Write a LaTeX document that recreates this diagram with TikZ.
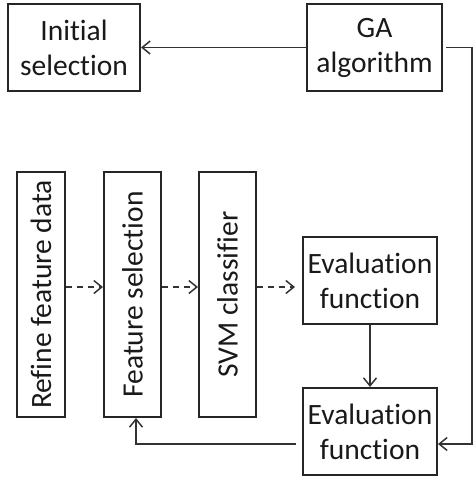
\documentclass[tikz,border=0pt]{standalone}
\usepackage{fontspec}
\setmainfont[Ligatures=NoCommon]{Carlito}
\usetikzlibrary{arrows.meta}
\begin{document}
\begin{tikzpicture}[x=1pt,y=-1pt,
  box/.style={draw=black!85, line width=2pt, rectangle, inner sep=0pt, align=center,
    font=\fontsize{29.5}{35}\selectfont, text=black!90},
  conn/.style={draw=black!80, line width=1.7pt, -{Straight Barb[length=8pt,width=13pt,line width=1.5pt]}},
  dconn/.style={conn, dash pattern=on 6pt off 5pt}]
\useasboundingbox (0,0) rectangle (474,484);
\node[box, minimum width=132pt, minimum height=87pt] (init) at (74,47.5) {Initial\\selection};
\node[box, minimum width=135pt, minimum height=87pt] (ga) at (374.5,47.5) {GA\\algorithm};
\node[box, minimum width=245pt, minimum height=48pt, rotate=90] (refine) at (41,294.5) {Refine feature data};
\node[box, minimum width=245pt, minimum height=57pt, rotate=90] (fsel) at (132.5,294.5) {Feature selection};
\node[box, minimum width=245pt, minimum height=57pt, rotate=90] (svm) at (227.5,294.5) {SVM classifier};
\node[box, minimum width=134pt, minimum height=87pt] (eva) at (370,280.5) {Evaluation\\function};
\node[box, minimum width=134pt, minimum height=87pt] (evb) at (370,431.5) {Evaluation\\function};
\coordinate (d) at (0,287);
\coordinate (c1) at (472,47.5);
\coordinate (c2) at (472,444);
\coordinate (c3) at (136,444);
\draw[conn] (ga) -- (init);
\draw[dconn] (refine.south |- d) -- (fsel.north |- d);
\draw[dconn] (fsel.south |- d) -- (svm.north |- d);
\draw[dconn, shorten >=7pt] (svm.south |- d) -- (eva.west |- d);
\draw[conn] (eva) -- (evb);
\draw[conn, shorten <=3pt] (ga.east) -- (c1) -- (c2) -- (evb.east |- c2);
\draw[conn, shorten <=6pt] (evb.west |- c3) -- (c3) -- (c3 |- fsel.west);
\end{tikzpicture}
\end{document}
